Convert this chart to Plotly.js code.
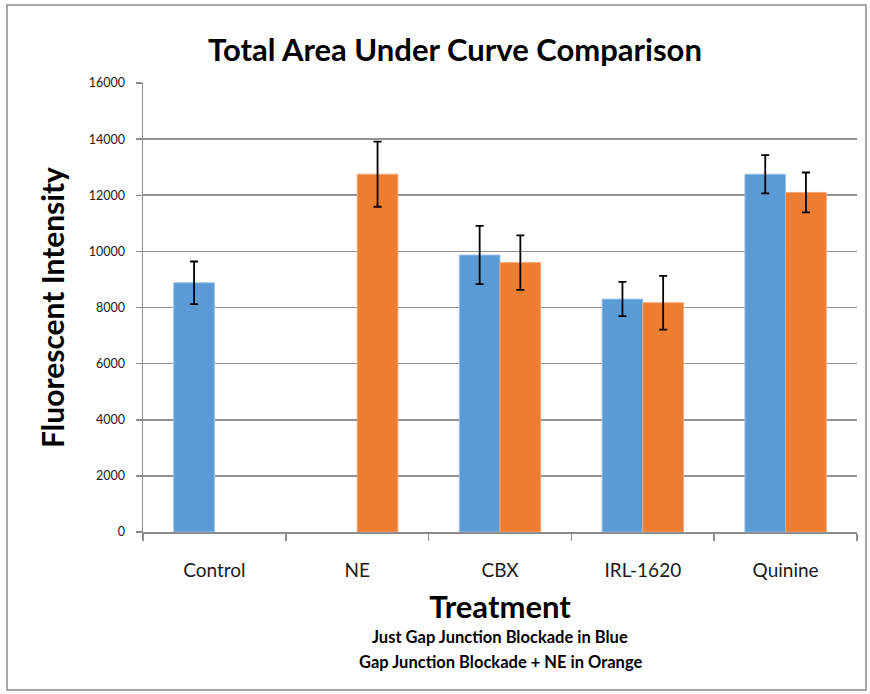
<!DOCTYPE html>
<html>
<head>
<meta charset="utf-8">
<script src="https://cdn.plot.ly/plotly-3.0.1.min.js"></script>
<style>html,body{margin:0;padding:0;background:#fff;}#chart{width:870px;height:694px;}</style>
</head>
<body>
<div id="chart"></div>
<script>
const categories = ["Control", "NE", "CBX", "IRL-1620", "Quinine"];
const blueValues = [8880, null, 9870, 8300, 12750];
const blueErrors = [760, null, 1040, 610, 680];
const orangeValues = [null, 12750, 9600, 8170, 12100];
const orangeErrors = [null, 1160, 970, 960, 710];

const FONT = "Lato, 'DejaVu Sans', sans-serif";

const traces = [
  {
    type: "bar", name: "Just Gap Junction Blockade",
    x: categories, y: blueValues,
    marker: {color: "#5B9BD5", line: {color: "#9cc3e8", width: 1}},
    error_y: {type: "data", array: blueErrors, visible: true, color: "#000", thickness: 1.8, width: 4}
  },
  {
    type: "bar", name: "Gap Junction Blockade + NE",
    x: categories, y: orangeValues,
    marker: {color: "#ED7D31", line: {color: "#f3a877", width: 1}},
    error_y: {type: "data", array: orangeErrors, visible: true, color: "#000", thickness: 1.8, width: 4}
  }
];

const layout = {
  width: 870, height: 694,
  margin: {l: 143, r: 13, t: 83, b: 162},
  paper_bgcolor: "#fff", plot_bgcolor: "#fff",
  showlegend: false,
  barmode: "group", bargap: 0.43, bargroupgap: 0,
  font: {family: FONT, color: "#000"},
  title: {
    text: "<b>Total Area Under Curve Comparison</b>",
    font: {family: FONT, size: 31, color: "#000"},
    x: 0.523, xanchor: "center", y: 0.928, yanchor: "middle"
  },
  xaxis: {
    type: "category",
    showgrid: false,
    showline: true, linecolor: "#8c8c8c", linewidth: 1.5,
    ticks: "outside", tickson: "boundaries", ticklen: 7, tickcolor: "#8c8c8c", tickwidth: 1.5,
    ticklabelstandoff: 21,
    tickfont: {family: FONT, size: 19, color: "#1a1a1a"},
    title: {text: "<b>Treatment</b>", font: {family: FONT, size: 31, color: "#000"}, standoff: 16}
  },
  yaxis: {
    range: [0, 16000], dtick: 2000, tick0: 0, tickformat: "d",
    showgrid: true, gridcolor: "#939393", gridwidth: 1.6,
    zeroline: false,
    showline: true, linecolor: "#8c8c8c", linewidth: 1.5,
    ticks: "outside", ticklen: 6, tickcolor: "#8c8c8c", tickwidth: 1.5,
    ticklabelstandoff: 8,
    tickfont: {family: FONT, size: 12.5, color: "#1a1a1a"},
    title: {text: "<b>Fluorescent Intensity</b>", font: {family: FONT, size: 30, color: "#000"}, standoff: 15}
  },
  annotations: [
    {text: "<b>Just Gap Junction Blockade in Blue</b>", xref: "paper", yref: "paper", x: 0.5, y: -0.234,
     xanchor: "center", yanchor: "middle", showarrow: false, font: {family: FONT, size: 16.5, color: "#000"}},
    {text: "<b>Gap Junction Blockade + NE in Orange</b>", xref: "paper", yref: "paper", x: 0.5, y: -0.29,
     xanchor: "center", yanchor: "middle", showarrow: false, font: {family: FONT, size: 16.5, color: "#000"}}
  ],
  shapes: [
    {type: "rect", xref: "paper", yref: "paper", x0: -0.1905, x1: 1.0126, y0: -0.352, y1: 1.1737,
     line: {color: "#8a8a8a", width: 1.5}, fillcolor: "rgba(0,0,0,0)", layer: "below"}
  ]
};

Plotly.newPlot("chart", traces, layout, {displayModeBar: false, staticPlot: true});
</script>
</body>
</html>
